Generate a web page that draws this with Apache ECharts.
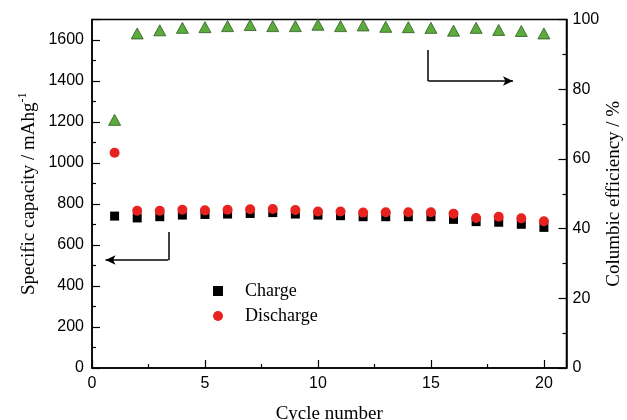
<!DOCTYPE html>
<html><head><meta charset="utf-8">
<script src="https://cdn.jsdelivr.net/npm/echarts@6/dist/echarts.min.js"></script>
<style>html,body{margin:0;padding:0;background:#fff}#c{width:627px;height:420px}</style>
</head><body><div id="c"></div>
<script>
var cycles = [1,2,3,4,5,6,7,8,9,10,11,12,13,14,15,16,17,18,19,20];
var charge = [741,732,738,746,749,751,754,758,751,746,743,738,738,738,738,725,714,711,701,686];
var discharge = [1050,767,767,772,769,772,774,776,771,763,763,758,760,760,760,753,732,738,730,716];
var efficiency = [71.2,96.0,96.9,97.6,97.8,98.1,98.4,98.1,98.1,98.5,98.1,98.3,97.9,97.8,97.6,96.8,97.6,97.0,96.7,96.0];
var xTicks = [0,5,10,15,20];
var leftTicks = [0,200,400,600,800,1000,1200,1400,1600];
var rightTicks = [0,20,40,60,80,100];

function pairs(xs, ys){ return xs.map(function(x,i){return [x, ys[i]];}); }
function plain(v){ return String(v); }

var chart = echarts.init(document.getElementById('c'), null, {renderer:'canvas'});
var sans = 'Liberation Sans', serif = 'Liberation Serif';
var axisCommon = {
  axisLine:{show:true, lineStyle:{color:'#000', width:1.5}},
  axisTick:{show:true, inside:true, length:8, lineStyle:{color:'#000', width:1.2}},
  minorTick:{show:true, splitNumber:2, length:4, lineStyle:{color:'#000', width:1.2}},
  splitLine:{show:false},
  axisLabel:{color:'#000', fontFamily:sans, fontSize:16, showMaxLabel:false},
  nameMoveOverlap:false
};
function merge(a,b){ return Object.assign({}, JSON.parse(JSON.stringify(a)), b); }

chart.setOption({
  animation:false,
  grid:{left:92, right:60.5, top:19.5, bottom:52, show:true, borderColor:'#000', borderWidth:1.5,
        backgroundColor:'transparent', containLabel:false, outerBoundsMode:'none'},
  legend:{
    data:[{name:'Charge', icon:'rect'},{name:'Discharge', icon:'circle'}],
    orient:'vertical', left:208, top:277, itemWidth:10, itemHeight:10, itemGap:7,
    textStyle:{fontFamily:serif, fontSize:18, color:'#000', padding:[0,0,0,17]}
  },
  xAxis: merge(axisCommon, {
    type:'value', min:0, max:21, interval:5,
    name:'Cycle number', nameLocation:'middle', nameGap:37,
    nameTextStyle:{fontFamily:serif, fontSize:19, color:'#000'}
  }),
  yAxis:[
    merge(axisCommon, {
      type:'value', min:0, max:1700, interval:200, position:'left',
      name:'Specific capacity / mAhg{sup|-1}', nameLocation:'middle', nameGap:51,
      nameTextStyle:{fontFamily:serif, fontSize:19, color:'#000',
        rich:{sup:{fontFamily:serif, fontSize:12, color:'#000', verticalAlign:'top', padding:[0,0,12,0]}}}
    }),
    merge(axisCommon, {
      type:'value', min:0, max:100, interval:20, position:'right',
      name:'Columbic efficiency / %', nameLocation:'middle', nameGap:38,
      nameTextStyle:{fontFamily:serif, fontSize:19, color:'#000'}
    })
  ]
});
chart.setOption({
  xAxis:{axisLabel:{formatter:plain}},
  yAxis:[{axisLabel:{formatter:plain}},{axisLabel:{formatter:plain, showMaxLabel:true, margin:6}}],
  series:[
    {name:'Efficiency', type:'scatter', yAxisIndex:1, symbol:'triangle', symbolSize:[12,11],
     itemStyle:{color:'#5cab3d', borderColor:'#2f5a22', borderWidth:0.8, opacity:1}, data:pairs(cycles, efficiency)},
    {name:'Discharge', type:'scatter', yAxisIndex:0, symbol:'circle', symbolSize:10,
     itemStyle:{color:'#e8231f', opacity:1}, data:pairs(cycles, discharge)},
    {name:'Charge', type:'scatter', yAxisIndex:0, symbol:'rect', symbolSize:9,
     itemStyle:{color:'#000', opacity:1}, data:pairs(cycles, charge), z:1,
     markLine:{silent:true, symbol:['none','none'], label:{show:false},
       lineStyle:{color:'#000', width:1.5, type:'solid'},
       data:[
         [{coord:[3.38,663]},{coord:[3.38,527]}],
         [{coord:[3.38,527]},{coord:[0.6,527], symbol:'arrow', symbolSize:[7,10]}],
         [{coord:[14.88,1551]},{coord:[14.88,1400]}],
         [{coord:[14.88,1400]},{coord:[18.63,1400], symbol:'arrow', symbolSize:[7,10]}]
       ]}}
  ]
});
</script></body></html>
